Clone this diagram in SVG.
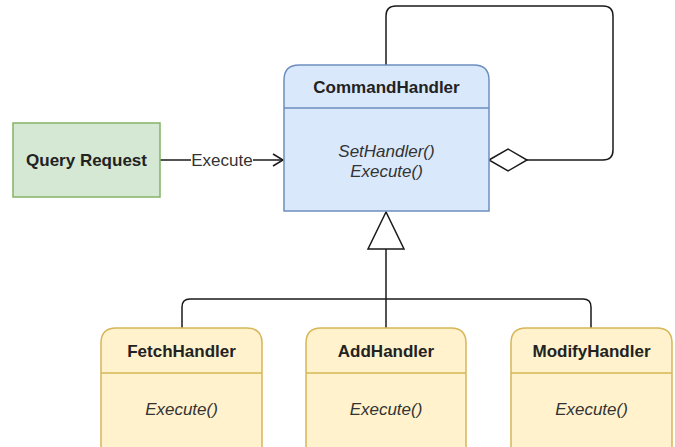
<svg xmlns="http://www.w3.org/2000/svg" width="675" height="447" viewBox="0 0 675 447">
  <style>
    .title { font-family: "Liberation Sans", Arial, sans-serif; font-size: 17px; font-weight: bold; fill: #222; text-anchor: middle; }
    .method { font-family: "Liberation Sans", Arial, sans-serif; font-size: 17px; font-style: italic; fill: #333; text-anchor: middle; }
    .label { font-family: "Liberation Sans", Arial, sans-serif; font-size: 17px; fill: #333; text-anchor: middle; }
    .blue { fill: #dae8fc; stroke: #6c8ebf; stroke-width: 1.5; }
    .yellow { fill: #fff2cc; stroke: #d6b656; stroke-width: 1.5; }
    .green { fill: #d5e8d4; stroke: #82b366; stroke-width: 1.5; }
    .edge { fill: none; stroke: #1a1a1a; stroke-width: 1.5; }
  </style>
  <rect width="675" height="447" fill="#ffffff"/>

  <!-- connectors -->
  <g id="connectors">
    <!-- self aggregation loop -->
    <path class="edge" d="M386,65 V16 Q386,6 396,6 H603 Q613,6 613,16 V150 Q613,160 603,160 H527"/>
    <polygon points="489,160 508,149 527,160 508,171" fill="#ffffff" stroke="#1a1a1a" stroke-width="1.5"/>
    <!-- Query Request -> CommandHandler -->
    <line class="edge" x1="160" y1="160" x2="283" y2="160"/>
    <polyline class="edge" points="273,154 283,160 273,166"/>
    <rect x="191" y="150" width="62" height="20" fill="#ffffff"/>
    <text class="label" x="222" y="166">Execute</text>
    <!-- generalization -->
    <path class="edge" d="M182,328 V307 Q182,299 190,299 H583 Q591,299 591,307 V328"/>
    <line class="edge" x1="386" y1="249" x2="386" y2="328"/>
    <polygon points="386,212 368,249 404,249" fill="#ffffff" stroke="#1a1a1a" stroke-width="1.5"/>
  </g>

  <g id="query-request">
    <rect class="green" x="13" y="123" width="147" height="74"/>
    <text class="title" x="86.5" y="166">Query Request</text>
  </g>

  <g id="command-handler">
    <path class="blue" d="M284,211 V80 Q284,65 299,65 H474 Q489,65 489,80 V211 Z"/>
    <line x1="284" y1="108" x2="489" y2="108" stroke="#6c8ebf" stroke-width="1.5"/>
    <text class="title" x="386.5" y="93">CommandHandler</text>
    <text class="method" x="386.5" y="157">SetHandler()</text>
    <text class="method" x="386.5" y="177">Execute()</text>
  </g>

  <g id="fetch-handler">
    <path class="yellow" d="M101,470 V343 Q101,328 116,328 H247 Q262,328 262,343 V470 Z"/>
    <line x1="101" y1="373" x2="262" y2="373" stroke="#d6b656" stroke-width="1.5"/>
    <text class="title" x="181.5" y="357">FetchHandler</text>
    <text class="method" x="181.5" y="415">Execute()</text>
  </g>

  <g id="add-handler">
    <path class="yellow" d="M306,470 V343 Q306,328 321,328 H451 Q466,328 466,343 V470 Z"/>
    <line x1="306" y1="373" x2="466" y2="373" stroke="#d6b656" stroke-width="1.5"/>
    <text class="title" x="386" y="357">AddHandler</text>
    <text class="method" x="386" y="415">Execute()</text>
  </g>

  <g id="modify-handler">
    <path class="yellow" d="M511,470 V343 Q511,328 526,328 H657 Q672,328 672,343 V470 Z"/>
    <line x1="511" y1="373" x2="672" y2="373" stroke="#d6b656" stroke-width="1.5"/>
    <text class="title" x="591.5" y="357">ModifyHandler</text>
    <text class="method" x="591.5" y="415">Execute()</text>
  </g>
</svg>
